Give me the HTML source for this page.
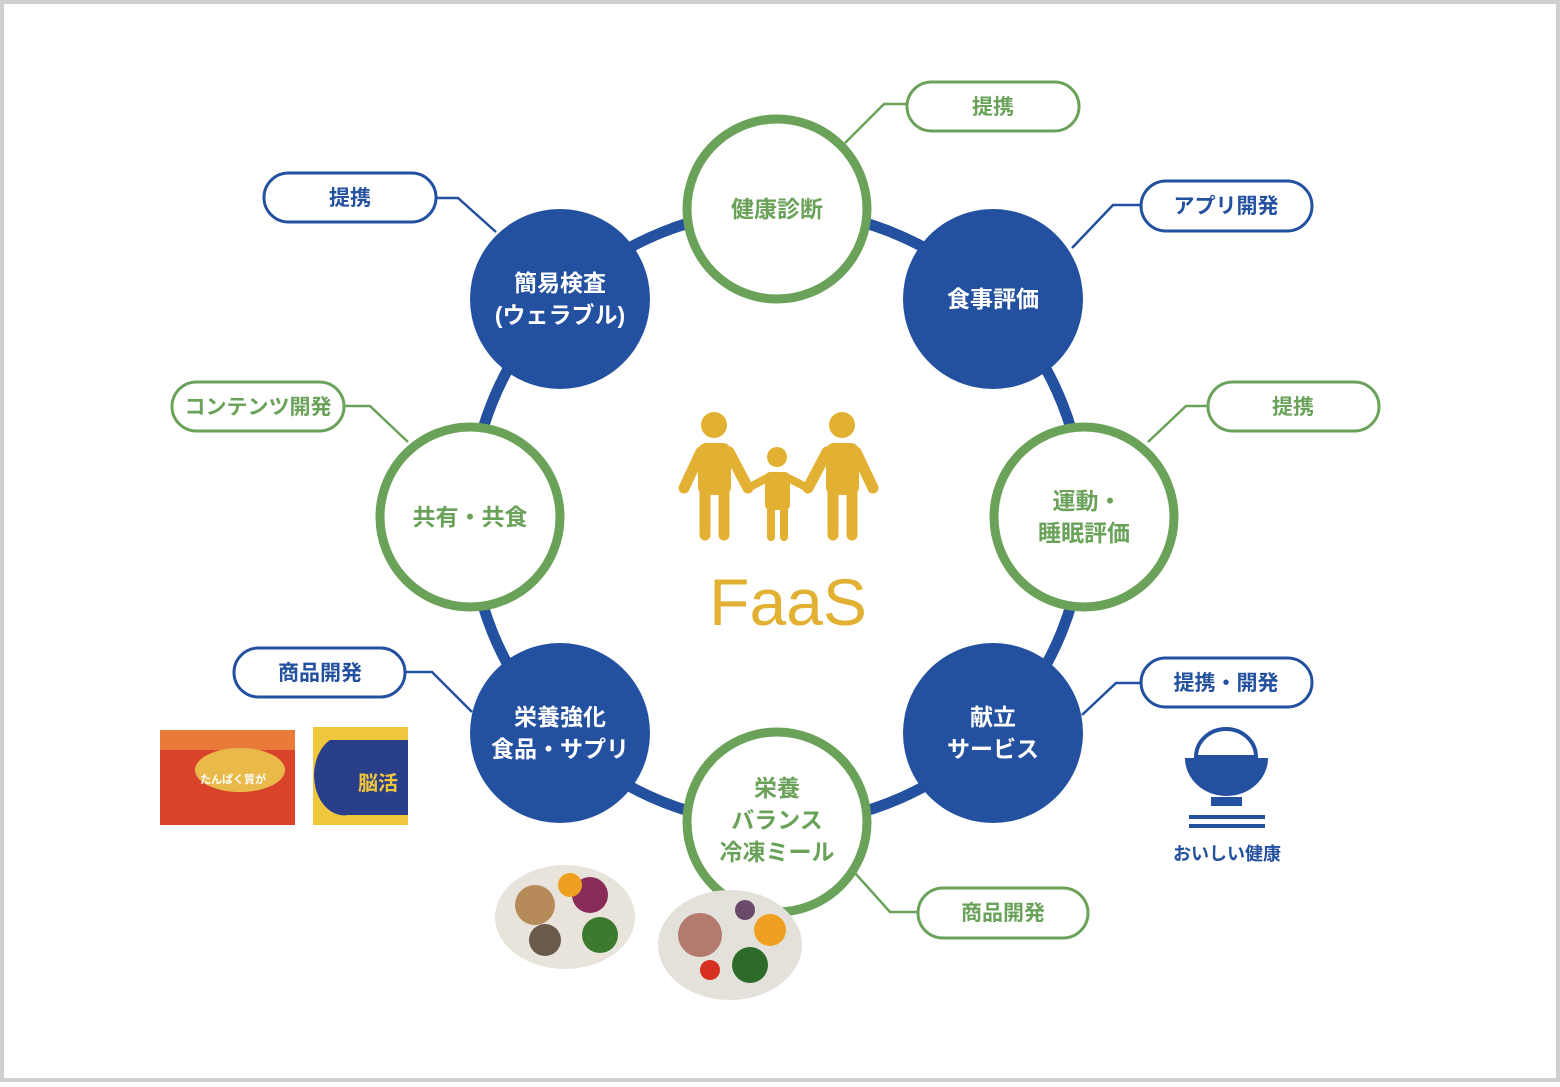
<!DOCTYPE html>
<html><head><meta charset="utf-8"><style>
html,body{margin:0;padding:0;background:#fff}
svg text{font-family:"Liberation Sans","Noto Sans CJK JP",sans-serif;font-weight:bold}
</style></head><body>
<svg width="1560" height="1082" viewBox="0 0 1560 1082" xmlns="http://www.w3.org/2000/svg">
<rect x="2" y="2" width="1556" height="1078" fill="#fff" stroke="#cfcfcf" stroke-width="4"/>
<circle cx="777" cy="517" r="307" fill="none" stroke="#23509f" stroke-width="11"/>
<g fill="none" stroke-width="2.5">
<polyline points="845,143 884,104 907,104" stroke="#6aa25a"/>
<polyline points="1072,248 1113,205 1141,205" stroke="#23509f"/>
<polyline points="1148,442 1186,406 1208,406" stroke="#6aa25a"/>
<polyline points="1082,715 1116,683 1141,683" stroke="#23509f"/>
<polyline points="855,873 890,912 918,912" stroke="#6aa25a"/>
<polyline points="472,712 432,672 405,672" stroke="#23509f"/>
<polyline points="408,442 370,406 344,406" stroke="#6aa25a"/>
<polyline points="496,232 458,198 436,198" stroke="#23509f"/>
</g>
<!-- pills -->
<g stroke-width="3" fill="#fff" font-size="21">
<rect x="907" y="82" width="172" height="49" rx="24.5" stroke="#6aa25a"/>
<rect x="1141" y="181" width="171" height="50" rx="25" stroke="#23509f"/>
<rect x="1208" y="382" width="171" height="49" rx="24.5" stroke="#6aa25a"/>
<rect x="1141" y="658" width="171" height="49" rx="24.5" stroke="#23509f"/>
<rect x="918" y="888" width="170" height="50" rx="25" stroke="#6aa25a"/>
<rect x="234" y="648" width="171" height="49" rx="24.5" stroke="#23509f"/>
<rect x="172" y="382" width="172" height="49" rx="24.5" stroke="#6aa25a"/>
<rect x="264" y="173" width="172" height="49" rx="24.5" stroke="#23509f"/>
</g>
<g font-size="21" text-anchor="middle">
<text x="993" y="114" fill="#6aa25a">提携</text>
<text x="1226" y="213" fill="#23509f">アプリ開発</text>
<text x="1293" y="414" fill="#6aa25a">提携</text>
<text x="1226" y="690" fill="#23509f">提携・開発</text>
<text x="1003" y="920" fill="#6aa25a">商品開発</text>
<text x="320" y="680" fill="#23509f">商品開発</text>
<text x="258" y="414" fill="#6aa25a">コンテンツ開発</text>
<text x="350" y="205" fill="#23509f">提携</text>
</g>
<!-- circles -->
<g stroke="#6aa25a" stroke-width="9" fill="#fff">
<circle cx="777" cy="209" r="90"/>
<circle cx="1084" cy="517" r="90"/>
<circle cx="777" cy="822" r="90"/>
<circle cx="470" cy="517" r="90"/>
</g>
<g fill="#23509f">
<circle cx="993" cy="299" r="90"/>
<circle cx="993" cy="733" r="90"/>
<circle cx="560" cy="733" r="90"/>
<circle cx="560" cy="299" r="90"/>
</g>
<g font-size="23" text-anchor="middle">
<text x="777" y="217" fill="#6aa25a">健康診断</text>
<text x="1087" y="509" fill="#6aa25a">運動・</text>
<text x="1084" y="541" fill="#6aa25a">睡眠評価</text>
<text x="777" y="796" fill="#6aa25a">栄養</text>
<text x="777" y="828" fill="#6aa25a">バランス</text>
<text x="777" y="860" fill="#6aa25a">冷凍ミール</text>
<text x="470" y="525" fill="#6aa25a">共有・共食</text>
<text x="993" y="307" fill="#fff">食事評価</text>
<text x="993" y="725" fill="#fff">献立</text>
<text x="993" y="757" fill="#fff">サービス</text>
<text x="560" y="725" fill="#fff">栄養強化</text>
<text x="560" y="757" fill="#fff">食品・サプリ</text>
<text x="560" y="291" fill="#fff">簡易検査</text>
<text x="560" y="323" fill="#fff">(ウェラブル)</text>
</g>
<!-- family -->
<g fill="#e2b032" stroke="#e2b032" stroke-linecap="round">
<circle cx="714" cy="425" r="13" stroke="none"/>
<circle cx="842" cy="425" r="13" stroke="none"/>
<circle cx="777" cy="457" r="10" stroke="none"/>
<rect x="698" y="443" width="33" height="52" rx="8" stroke="none"/>
<rect x="826" y="443" width="33" height="52" rx="8" stroke="none"/>
<rect x="765" y="472" width="25" height="38" rx="5" stroke="none"/>
<g stroke-width="11">
<line x1="705" y1="490" x2="705" y2="535"/><line x1="724" y1="490" x2="724" y2="535"/>
<line x1="833" y1="490" x2="833" y2="535"/><line x1="852" y1="490" x2="852" y2="535"/>
<line x1="701" y1="452" x2="684" y2="488"/><line x1="729" y1="452" x2="748" y2="488"/>
<line x1="827" y1="452" x2="808" y2="488"/><line x1="856" y1="452" x2="873" y2="488"/>
</g>
<g stroke-width="8">
<line x1="771" y1="505" x2="771" y2="537"/><line x1="784" y1="505" x2="784" y2="537"/>
<line x1="767" y1="478" x2="748" y2="488"/><line x1="788" y1="478" x2="808" y2="488"/>
</g>
</g>
<text x="788" y="625" font-size="66" fill="#e2b032" text-anchor="middle" style="font-weight:normal">FaaS</text>
<!-- rice bowl -->
<g fill="#23509f">
<path d="M1196,757 a30,28 0 0 1 60,0 z" fill="none" stroke="#23509f" stroke-width="4"/>
<path d="M1185,758 h83 a41.5,38 0 0 1 -83,0 z"/>
<rect x="1211" y="797" width="31" height="9"/>
<rect x="1189" y="815" width="76" height="4"/>
<rect x="1189" y="824" width="76" height="4"/>
</g>
<text x="1227" y="860" font-size="18" fill="#23509f" text-anchor="middle">おいしい健康</text>
<!-- products -->
<rect x="160" y="730" width="135" height="95" fill="#d9432a"/>
<rect x="160" y="730" width="135" height="20" fill="#e97a3a"/>
<ellipse cx="240" cy="770" rx="45" ry="22" fill="#e9b94a"/>
<text x="200" y="783" font-size="11" fill="#fff">たんぱく質が</text>
<rect x="313" y="727" width="95" height="98" fill="#f0c73c"/>
<path d="M330,740 h78 v75 h-60 a30,40 0 0 1 -18,-75z" fill="#2a3f8a"/>
<text x="378" y="790" font-size="20" fill="#f0c73c" text-anchor="middle">脳活</text>
<!-- food -->
<ellipse cx="565" cy="917" rx="70" ry="52" fill="#e8e4dc"/>
<circle cx="535" cy="905" r="20" fill="#b78a5a"/>
<circle cx="590" cy="895" r="18" fill="#8a2c5a"/>
<circle cx="600" cy="935" r="18" fill="#3e7a2e"/>
<circle cx="545" cy="940" r="16" fill="#6a5a4a"/>
<circle cx="570" cy="885" r="12" fill="#f0a020"/>
<ellipse cx="730" cy="945" rx="72" ry="55" fill="#e4e0da"/>
<circle cx="700" cy="935" r="22" fill="#b47a70"/>
<circle cx="770" cy="930" r="16" fill="#f0a020"/>
<circle cx="750" cy="965" r="18" fill="#2e6a2a"/>
<circle cx="710" cy="970" r="10" fill="#d83020"/>
<circle cx="745" cy="910" r="10" fill="#6a4a6a"/>
</svg>
</body></html>
